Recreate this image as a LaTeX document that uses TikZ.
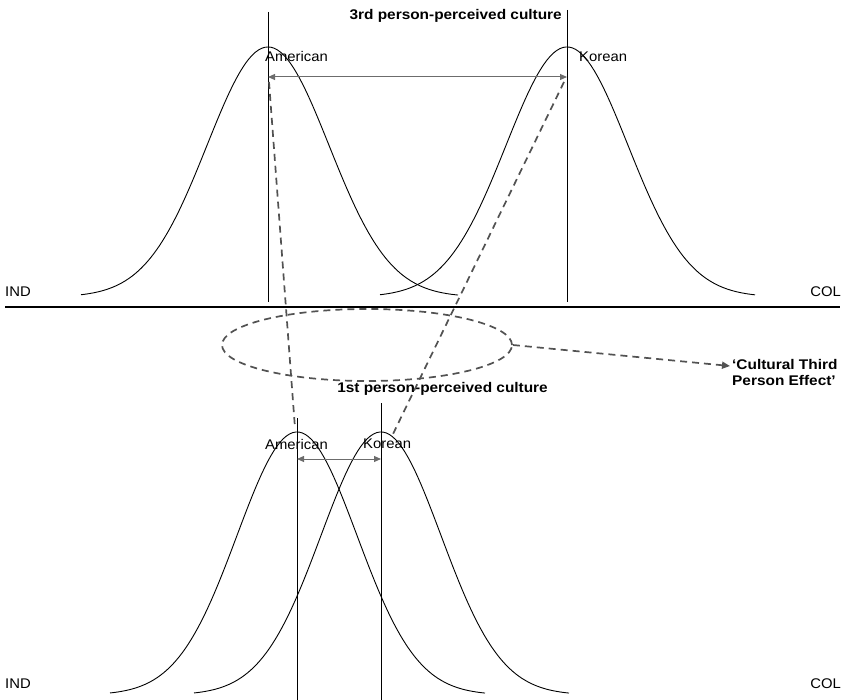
\documentclass[tikz,border=0pt]{standalone}
\usepackage{fontspec}
\setmainfont{Liberation Sans}
\newfontfamily\lblfont[FakeStretch=1.06]{Liberation Sans}
\newfontfamily\ttlfont[FakeStretch=1.1]{Liberation Sans Bold}
\usetikzlibrary{arrows.meta,shapes.geometric}
\begin{document}
\begin{tikzpicture}[x=1pt,y=-1pt,
  curve/.style={black, line width=0.9pt},
  vline/.style={black, line width=1pt},
  dimarrow/.style={gray!85!black, line width=1pt, {Triangle[length=7pt,width=6pt]}-{Triangle[length=7pt,width=6pt]}},
  dashline/.style={black!68, line width=1.7pt, dash pattern=on 7pt off 5pt},
  lbl/.style={font=\lblfont\fontsize{14}{16}\selectfont, inner sep=0pt, anchor=west},
  ttl/.style={font=\ttlfont\fontsize{14}{16}\selectfont, inner sep=0pt}]
\useasboundingbox (0,0) rectangle (845,700);
% axis
\draw[black, line width=1.2pt] (5,307) -- (840,307);
\node[lbl] (ind1) at (5,292) {IND};
\node[lbl, anchor=east] (col1) at (841,292) {COL};
\node[lbl] (ind2) at (5,684) {IND};
\node[lbl, anchor=east] (col2) at (841,684) {COL};
% top curves
\draw[curve] plot[domain=-187:190, samples=120] ({268+\x},{297-250*exp(-((\x/61)^2)/2)});
\draw[curve] plot[domain=-187:188, samples=120] ({567+\x},{297-250*exp(-((\x/61)^2)/2)});
% top vertical lines
\coordinate (amT1) at (268,12);
\coordinate (amT2) at (268,302);
\coordinate (koT1) at (567,10);
\coordinate (koT2) at (567,302);
\draw[vline] (amT1) -- (amT2);
\draw[vline] (koT1) -- (koT2);
% bottom curves
\draw[curve] plot[domain=-187:188, samples=120] ({297+\x},{695-263*exp(-((\x/60)^2)/2)});
\draw[curve] plot[domain=-187:188, samples=120] ({381+\x},{695-263*exp(-((\x/60)^2)/2)});
\coordinate (amB1) at (297,418);
\coordinate (amB2) at (297,700);
\coordinate (koB1) at (381,403);
\coordinate (koB2) at (381,700);
\draw[vline] (amB1) -- (amB2);
\draw[vline] (koB1) -- (koB2);
% labels
\node[lbl] (amL1) at (265,57) {American};
\node[lbl] (koL1) at (579,57) {Korean};
\node[lbl] (amL2) at (265,444) {American};
\node[lbl] (koL2) at (363,444) {Korean};
\node[ttl, anchor=east] (t3) at (562,16) {3rd person-perceived culture};
\node[ttl, anchor=east] (t1) at (548,389) {1st person-perceived culture};
\node[ttl, anchor=north west, align=left] (cte) at (732,359) {‘Cultural Third\\Person Effect’};
% double arrows
\coordinate (a1) at (268,77);
\coordinate (a2) at (567,77);
\coordinate (b1) at (297,459);
\coordinate (b2) at (381,459);
\draw[dimarrow] (a1) -- (a2);
\draw[dimarrow] (b1) -- (b2);
% dashed connectors
\coordinate (d1s) at (269,82);
\coordinate (d1e) at (295,428);
\coordinate (d2s) at (564,82);
\coordinate (d2e) at (393,434);
\draw[dashline] (d1s) -- (d1e);
\draw[dashline] (d2s) -- (d2e);
% ellipse
\node[draw=black!68, line width=1.7pt, dash pattern=on 7pt off 5pt, ellipse, minimum width=290pt, minimum height=72pt, inner sep=0pt] (ell) at (367,345) {};
\coordinate (tip) at (730,366);
\draw[dashline, -{Triangle[length=8pt,width=7pt]}] (ell.east) -- (tip);
\end{tikzpicture}
\end{document}
